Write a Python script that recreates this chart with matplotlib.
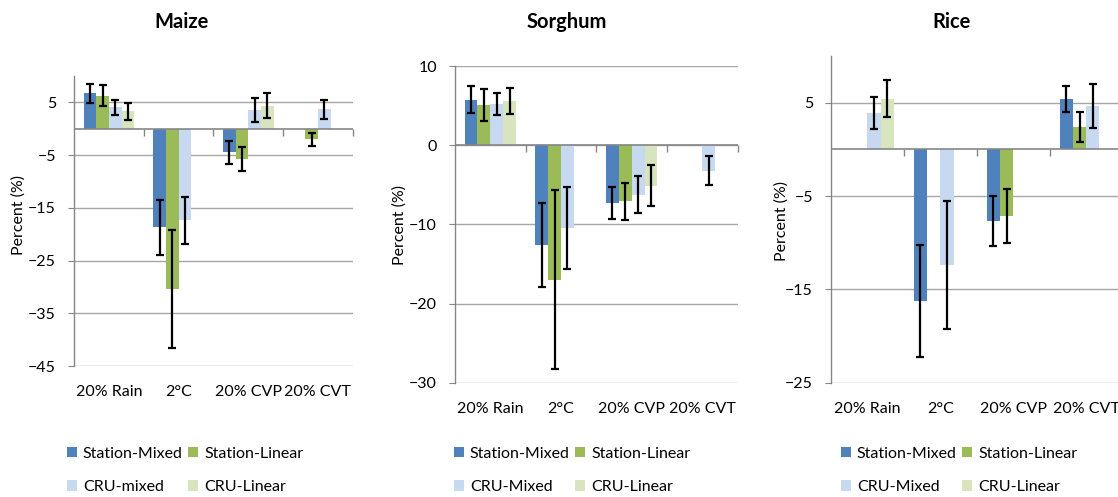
import numpy as np
import matplotlib
matplotlib.use("Agg")
import matplotlib.pyplot as plt
from matplotlib.patches import Patch

plt.rcParams['font.family'] = ['Lato', 'DejaVu Sans']

nan = np.nan
categories = ["20% Rain", "2°C", "20% CVP", "20% CVT"]
series_names = ["Station-Mixed", "Station-Linear", "CRU-Mixed", "CRU-Linear"]
maize_names = ["Station-Mixed", "Station-Linear", "CRU-mixed", "CRU-Linear"]

# Maize
maize_sm = [6.7, -18.7, -4.5, nan]
maize_sm_err = [1.75, 5.25, 2.15, nan]
maize_sl = [6.3, -30.4, -5.8, -2.0]
maize_sl_err = [2.0, 11.1, 2.3, 1.2]
maize_cm = [4.05, -17.4, 3.5, 3.7]
maize_cm_err = [1.4, 4.4, 2.3, 1.8]
maize_cl = [3.3, nan, 4.4, nan]
maize_cl_err = [1.55, nan, 2.45, nan]

# Sorghum
sorg_sm = [5.73, -12.55, -7.28, nan]
sorg_sm_err = [1.7, 5.3, 2.06, nan]
sorg_sl = [5.1, -16.97, -7.1, nan]
sorg_sl_err = [2.05, 11.3, 2.35, nan]
sorg_cm = [5.2, -10.5, -6.23, -3.2]
sorg_cm_err = [1.45, 5.2, 2.3, 1.83]
sorg_cl = [5.6, nan, -5.1, nan]
sorg_cl_err = [1.6, nan, 2.57, nan]

# Rice
rice_sm = [nan, -16.3, -7.68, 5.42]
rice_sm_err = [nan, 6.0, 2.7, 1.37]
rice_sl = [nan, nan, -7.14, 2.4]
rice_sl_err = [nan, nan, 2.9, 1.65]
rice_cm = [3.9, -12.4, nan, 4.66]
rice_cm_err = [1.75, 6.85, nan, 2.38]
rice_cl = [5.42, nan, nan, nan]
rice_cl_err = [1.96, nan, nan, nan]

maize_ticks = [5, -5, -15, -25, -35, -45]
sorg_ticks = [10, 0, -10, -20, -30]
rice_ticks = [5, -5, -15, -25]

colors = ["#4F81BD", "#9BBB59", "#C6D9F1", "#D7E4BD"]
grid_c = "#A6A6A6"
axis_c = "#868686"

W, H = 1118, 497
fig = plt.figure(figsize=(W / 100, H / 100), dpi=100)

def px_axes(left, right, top, bottom):
    return fig.add_axes([left / W, 1 - bottom / H, (right - left) / W, (bottom - top) / H])

panels = [
    dict(title="Maize", tx=181.7, box=(74, 352.7, 76, 366), ylim=(-45, 10), ticks=maize_ticks,
         vals=[maize_sm, maize_sl, maize_cm, maize_cl],
         errs=[maize_sm_err, maize_sl_err, maize_cm_err, maize_cl_err],
         names=maize_names, ylx=19, yly=215, leg=(67, 447)),
    dict(title="Sorghum", tx=566.7, box=(455, 737.7, 66, 382.7), ylim=(-30, 10), ticks=sorg_ticks,
         vals=[sorg_sm, sorg_sl, sorg_cm, sorg_cl],
         errs=[sorg_sm_err, sorg_sl_err, sorg_cm_err, sorg_cl_err],
         names=series_names, ylx=400, yly=225, leg=(454, 447)),
    dict(title="Rice", tx=951.7, box=(831, 1122.6, 56, 382.7), ylim=(-25, 10), ticks=rice_ticks,
         vals=[rice_sm, rice_sl, rice_cm, rice_cl],
         errs=[rice_sm_err, rice_sl_err, rice_cm_err, rice_cl_err],
         names=series_names, ylx=781.5, yly=220.5, leg=(841, 447)),
]

n = len(categories)
x = np.arange(n)
w = 1 / 5.5
fs = 11.5

for p in panels:
    ax = px_axes(*p["box"])
    ax.set_xlim(-0.5, n - 0.5)
    ax.set_ylim(*p["ylim"])
    ax.set_yticks(p["ticks"])
    ax.yaxis.grid(True, color=grid_c, linewidth=1.0, zorder=0)
    ax.set_axisbelow(True)
    for s in ["top", "right", "bottom"]:
        ax.spines[s].set_visible(False)
    ax.spines["left"].set_color(axis_c)
    ax.spines["left"].set_linewidth(1.0)
    ax.tick_params(axis="y", length=4, color=axis_c, labelsize=fs, pad=9)
    ax.set_xticks(x, categories)
    ax.tick_params(axis="x", length=0, labelsize=fs, pad=14)
    for j in range(4):
        ax.bar(x + (j - 1.5) * w, p["vals"][j], width=w, color=colors[j], zorder=2,
               yerr=p["errs"][j], error_kw=dict(ecolor="black", elinewidth=1.6,
                                                 capsize=3, capthick=1.6, zorder=4))
    ax.axhline(0, color=axis_c, linewidth=1.2, zorder=3)
    ax.plot(np.arange(n) + 0.5, np.zeros(n), linestyle="none", marker=3,
            markersize=5, color=axis_c, markeredgewidth=1.0, zorder=3, clip_on=False)
    fig.text(p["tx"] / W, 1 - 22 / H, p["title"], ha="center", va="center",
             fontsize=14.5, fontweight="bold")
    fig.text(p["ylx"] / W, 1 - p["yly"] / H, "Percent (%)", rotation=90,
             ha="center", va="center", fontsize=fs)
    handles = [Patch(facecolor=c, edgecolor="none") for c in colors]
    order = [0, 2, 1, 3]
    fig.legend([handles[i] for i in order], [p["names"][i] for i in order],
               loc="upper left", bbox_to_anchor=(p["leg"][0] / W, 1 - p["leg"][1] / H),
               bbox_transform=fig.transFigure, ncol=2, frameon=False, fontsize=fs,
               handlelength=0.6, handleheight=0.6, handletextpad=0.4,
               columnspacing=0.35, labelspacing=1.2, borderpad=0, borderaxespad=0)

fig.savefig("out.png", dpi=100)
